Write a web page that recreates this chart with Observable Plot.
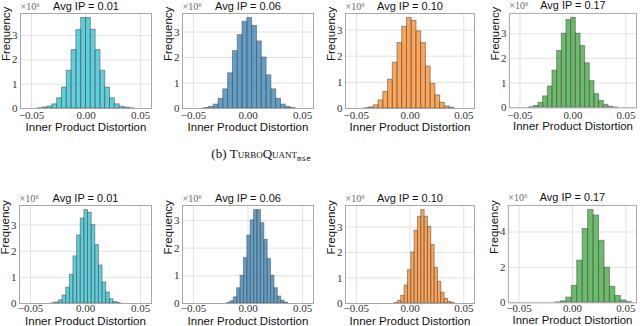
<!DOCTYPE html>
<html>
<head>
<meta charset="utf-8">
<script src="https://cdn.jsdelivr.net/npm/d3@7"></script>
<script src="https://cdn.jsdelivr.net/npm/@observablehq/plot@0.6"></script>
<style>
  html, body { margin: 0; padding: 0; background: #fff; }
  #root { position: relative; width: 640px; height: 326px; overflow: hidden; background: #fff; }
  .panel { position: absolute; }
  #caption { position: absolute; left: 0; top: 146px; width: 522px; text-align: center;
             font-family: "Liberation Serif", "DejaVu Serif", serif; font-size: 13px; color: #111; }
  #caption .sc { font-variant: small-caps; }
  #caption sub { font-family: "DejaVu Sans Mono", "Liberation Mono", monospace; font-size: 7.5px; vertical-align: -3px; }
</style>
</head>
<body>
<div id="root">
  <div id="caption">(b) <span class="sc">TurboQuant</span><sub>mse</sub></div>
</div>
<script>
// ---------- data ----------
const titles = ["Avg IP = 0.01", "Avg IP = 0.06", "Avg IP = 0.10", "Avg IP = 0.17"];
const colors = ["#17becf", "#1f77b4", "#ff7f0e", "#2ca02c"];
const xTicks = [-0.05, 0, 0.05];
const yTicks3 = [0, 1, 2, 3];
const yTicks4 = [0, 2, 4];
const scaleLabel = "×10⁶";
const xLabel = "Inner Product Distortion";
const yLabel = "Frequency";

// top row (TurboQuant_mse), frequencies in units of 10^6
const topEdges1 = [-0.0440, -0.0396, -0.0352, -0.0308, -0.0264, -0.0220, -0.0176, -0.0132, -0.0088, -0.0044, 0.0000, 0.0044, 0.0088, 0.0132, 0.0176, 0.0220, 0.0264, 0.0308, 0.0352, 0.0396, 0.0440];
const topCounts1 = [0.01, 0.04, 0.08, 0.17, 0.42, 0.86, 1.55, 2.40, 3.22, 3.72, 3.72, 3.24, 2.40, 1.55, 0.86, 0.42, 0.17, 0.07, 0.03, 0.01];

const topEdges2 = [-0.0402, -0.0358, -0.0314, -0.0270, -0.0226, -0.0182, -0.0138, -0.0094, -0.0050, -0.0006, 0.0038, 0.0082, 0.0126, 0.0170, 0.0214, 0.0258, 0.0302, 0.0346, 0.0390, 0.0434];
const topCounts2 = [0.02, 0.06, 0.15, 0.38, 0.75, 1.38, 2.25, 2.88, 3.40, 3.55, 3.24, 2.63, 2.00, 1.30, 0.75, 0.38, 0.15, 0.06, 0.02];

const topEdges3 = [-0.0424, -0.0380, -0.0336, -0.0292, -0.0248, -0.0204, -0.0160, -0.0116, -0.0072, -0.0028, 0.0016, 0.0060, 0.0104, 0.0148, 0.0192, 0.0236, 0.0280, 0.0324, 0.0368, 0.0412];
const topCounts3 = [0.01, 0.04, 0.12, 0.31, 0.63, 1.10, 1.75, 2.50, 3.12, 3.46, 3.35, 2.95, 2.50, 1.60, 0.94, 0.50, 0.22, 0.08, 0.03];

const topEdges4 = [-0.0413, -0.0369, -0.0325, -0.0281, -0.0237, -0.0193, -0.0149, -0.0105, -0.0061, -0.0017, 0.0027, 0.0071, 0.0115, 0.0159, 0.0203, 0.0247, 0.0291, 0.0335, 0.0379, 0.0423];
const topCounts4 = [0.02, 0.07, 0.20, 0.46, 0.86, 1.50, 2.30, 3.00, 3.55, 3.64, 3.00, 2.50, 1.80, 1.08, 0.55, 0.28, 0.12, 0.04, 0.01];

// bottom row
const botEdges1 = [-0.0307, -0.0274, -0.0241, -0.0208, -0.0175, -0.0142, -0.0109, -0.0076, -0.0043, -0.0010, 0.0023, 0.0056, 0.0089, 0.0122, 0.0155, 0.0188, 0.0221, 0.0254, 0.0287, 0.0320];
const botCounts1 = [0.01, 0.04, 0.12, 0.30, 0.60, 1.10, 1.80, 2.60, 3.25, 3.57, 3.47, 3.00, 2.23, 1.45, 0.80, 0.42, 0.16, 0.06, 0.02];

const botEdges2 = [-0.0192, -0.0161, -0.0130, -0.0099, -0.0068, -0.0037, -0.0006, 0.0025, 0.0056, 0.0087, 0.0118, 0.0149, 0.0180, 0.0211, 0.0242, 0.0273, 0.0304, 0.0335, 0.0366];
const botCounts2 = [0.02, 0.08, 0.22, 0.55, 1.00, 1.64, 2.45, 3.00, 3.37, 3.37, 2.90, 2.30, 1.60, 1.00, 0.55, 0.25, 0.10, 0.03];

const botEdges3 = [-0.0143, -0.0112, -0.0081, -0.0050, -0.0019, 0.0012, 0.0043, 0.0074, 0.0105, 0.0136, 0.0167, 0.0198, 0.0229, 0.0260, 0.0291, 0.0322, 0.0353, 0.0384, 0.0415];
const botCounts3 = [0.02, 0.10, 0.30, 0.70, 1.30, 2.00, 2.85, 3.40, 3.66, 3.40, 3.00, 2.30, 1.40, 0.85, 0.42, 0.18, 0.06, 0.02];

const botEdges4 = [-0.0159, -0.0108, -0.0057, -0.0006, 0.0045, 0.0096, 0.0147, 0.0198, 0.0249, 0.0300, 0.0351, 0.0402, 0.0453, 0.0504, 0.0555];
const botCounts4 = [0.02, 0.08, 0.29, 0.95, 2.38, 4.17, 5.24, 4.93, 3.50, 1.98, 0.90, 0.38, 0.13, 0.04];

// ---------- layout (frame boxes in page pixels) ----------
const panels = [
  {edges: topEdges1, counts: topCounts1, title: titles[0], color: colors[0], yTicks: yTicks3, L: 20, R: 151, T: 13, B: 108, lab: 19, pad: 3},
  {edges: topEdges2, counts: topCounts2, title: titles[1], color: colors[1], yTicks: yTicks3, L: 182, R: 313, T: 13, B: 108, lab: 19, pad: 3},
  {edges: topEdges3, counts: topCounts3, title: titles[2], color: colors[2], yTicks: yTicks3, L: 345, R: 474, T: 13, B: 108, lab: 19, pad: 3},
  {edges: topEdges4, counts: topCounts4, title: titles[3], color: colors[3], yTicks: yTicks3, L: 509, R: 637, T: 13, B: 108, lab: 19, pad: 3},
  {edges: botEdges1, counts: botCounts1, title: titles[0], color: colors[0], yTicks: yTicks3, L: 19, R: 151, T: 205, B: 303, lab: 18, pad: 1},
  {edges: botEdges2, counts: botCounts2, title: titles[1], color: colors[1], yTicks: yTicks3, L: 182, R: 313, T: 205, B: 303, lab: 18, pad: 1},
  {edges: botEdges3, counts: botCounts3, title: titles[2], color: colors[2], yTicks: yTicks3, L: 345, R: 474, T: 205, B: 303, lab: 18, pad: 1},
  {edges: botEdges4, counts: botCounts4, title: titles[3], color: colors[3], yTicks: yTicks4, L: 508, R: 637, T: 205, B: 303, lab: 18, pad: 1}
];

const ML = 20, MR = 4, MT = 14, MB = 28;
const SANS = "Liberation Sans, Arial, Helvetica, sans-serif";
const SERIF = "Liberation Serif, DejaVu Serif, serif";
const root = document.getElementById("root");

for (const p of panels) {
  const bins = p.counts.map((c, i) => ({x1: p.edges[i], x2: p.edges[i + 1], y: c}));
  const ymax = d3.max(p.counts) * 1.05;
  const chart = Plot.plot({
    width: p.R - p.L + ML + MR,
    height: p.B - p.T + MT + MB,
    marginLeft: ML, marginRight: MR, marginTop: MT, marginBottom: MB,
    style: {background: "transparent", overflow: "visible", fontFamily: SERIF, fontSize: "11px", color: "#333"},
    x: {domain: [-0.06, 0.06]},
    y: {domain: [0, ymax]},
    marks: [
      Plot.gridX(xTicks, {stroke: "#e2e2e2", strokeOpacity: 1}),
      Plot.gridY(p.yTicks, {stroke: "#e2e2e2", strokeOpacity: 1}),
      Plot.rectY(bins, {x1: "x1", x2: "x2", y: "y", fill: p.color, fillOpacity: 0.7,
                        stroke: "#555", strokeOpacity: 0.6, strokeWidth: 1, insetLeft: 0, insetRight: 0}),
      Plot.frame({stroke: "#a8a8a8"}),
      Plot.axisX(xTicks, {tickSize: 0, tickPadding: p.pad, tickFormat: d3.format(".2f"), label: null,
                          fontFamily: SERIF, fontSize: 11}),
      Plot.axisY(p.yTicks, {tickSize: 0, tickPadding: 3, tickFormat: d3.format("d"), label: null,
                            fontFamily: SERIF, fontSize: 11}),
      Plot.text([p.title], {frameAnchor: "top", lineAnchor: "bottom", dy: -4, fontFamily: SANS, fontSize: 11, fill: "#111"}),
      Plot.text([scaleLabel], {frameAnchor: "top-left", textAnchor: "start", lineAnchor: "bottom", dy: -4, fontFamily: SERIF, fontSize: 10, fill: "#666"}),
      Plot.text([yLabel], {frameAnchor: "left", rotate: -90, dx: -14, lineAnchor: "middle", fontFamily: SANS, fontSize: 11.5, fill: "#111"}),
      Plot.text([xLabel], {frameAnchor: "bottom", lineAnchor: "middle", dy: p.lab, fontFamily: SANS, fontSize: 11.5, fill: "#111"})
    ]
  });
  const div = document.createElement("div");
  div.className = "panel";
  div.style.left = (p.L - ML) + "px";
  div.style.top = (p.T - MT) + "px";
  div.appendChild(chart);
  root.appendChild(div);
}
</script>
</body>
</html>
